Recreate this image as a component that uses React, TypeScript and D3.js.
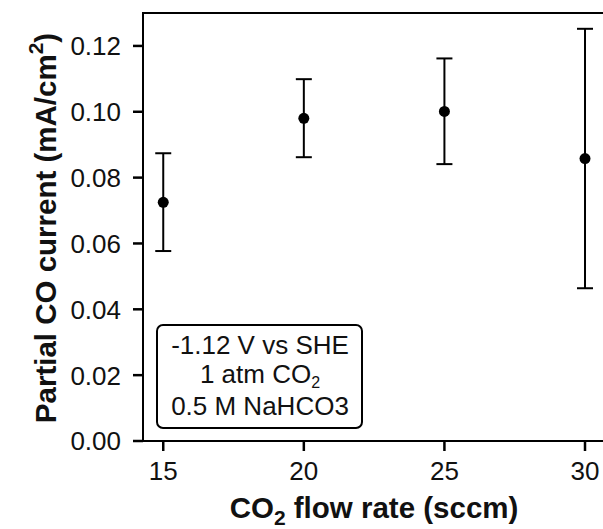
import React from 'react';
import * as d3 from 'd3';

// CO2 flow rate (sccm)
const flowRates = [15, 20, 25, 30];
// partial CO current (mA/cm^2)
const currents = [0.0725, 0.098, 0.1001, 0.0858];
const errLow = [0.0577, 0.0862, 0.0841, 0.0464];
const errHigh = [0.0874, 0.1099, 0.1162, 0.1252];
const xTicks = [15, 20, 25, 30];
const yTicks = [0, 0.02, 0.04, 0.06, 0.08, 0.1, 0.12];

const W = 603;
const H = 529;
const left = 143;
const top = 13;
const bottom = 441;

const App = () => {
  const x = d3.scaleLinear().domain([14.28, 30.64]).range([left, W]);
  const y = d3.scaleLinear().domain([0, 0.13]).range([bottom, top]);
  const font = 'Liberation Sans, Arial, sans-serif';
  const cap = 8;

  return (
    <svg width={W} height={H} style={{ position: 'absolute', left: 0, top: 0, background: 'white' }}
      fontFamily={font}>
      {/* frame */}
      <line x1={left} x2={W} y1={top} y2={top} stroke="black" strokeWidth={2} />
      <line x1={left} x2={left} y1={top - 1} y2={bottom + 1} stroke="black" strokeWidth={2} />
      <line x1={left - 1} x2={W} y1={bottom} y2={bottom} stroke="black" strokeWidth={2} />

      {/* y axis */}
      {yTicks.map(t => (
        <g key={t}>
          <line x1={left - 10} x2={left} y1={y(t)} y2={y(t)} stroke="black" strokeWidth={2.5} />
          <text x={left - 22} y={y(t)} dy="0.36em" textAnchor="end" fontSize={26} fill="#111">
            {d3.format('.2f')(t)}
          </text>
        </g>
      ))}

      {/* x axis */}
      {xTicks.map(t => (
        <g key={t}>
          <line x1={x(t)} x2={x(t)} y1={bottom} y2={bottom + 10} stroke="black" strokeWidth={2.5} />
          <text x={x(t)} y={480} textAnchor="middle" fontSize={26} fill="#111">{t}</text>
        </g>
      ))}

      {/* error bars and points */}
      {flowRates.map((f, i) => (
        <g key={f}>
          <line x1={x(f)} x2={x(f)} y1={y(errLow[i])} y2={y(errHigh[i])} stroke="black" strokeWidth={2} />
          <line x1={x(f) - cap} x2={x(f) + cap} y1={y(errLow[i])} y2={y(errLow[i])} stroke="black" strokeWidth={2} />
          <line x1={x(f) - cap} x2={x(f) + cap} y1={y(errHigh[i])} y2={y(errHigh[i])} stroke="black" strokeWidth={2} />
          <circle cx={x(f)} cy={y(currents[i])} r={5.5} fill="black" />
        </g>
      ))}

      {/* legend box */}
      <rect x={157} y={325} width={205} height={103} rx={6} fill="white" stroke="black" strokeWidth={2} />
      <g fontSize={26} textAnchor="middle" fill="#111">
        <text x={260} y={354}>-1.12 V vs SHE</text>
        <text x={260} y={383}>1 atm CO<tspan fontSize={16} dy={5}>2</tspan></text>
        <text x={260} y={415}>0.5 M NaHCO3</text>
      </g>

      {/* axis labels */}
      <text x={374} y={518} textAnchor="middle" fontSize={29.5} fontWeight="bold" fill="#111">
        CO<tspan fontSize={21} dy={7}>2</tspan><tspan dy={-7}> flow rate (sccm)</tspan>
      </text>
      <text transform={`translate(56, ${(top + bottom) / 2 + 1}) rotate(-90)`} textAnchor="middle"
        fontSize={29.5} fontWeight="bold" fill="#111">
        Partial CO current (mA/cm<tspan fontSize={21} dy={-13}>2</tspan><tspan dy={13}>)</tspan>
      </text>
    </svg>
  );
};

export default App;
